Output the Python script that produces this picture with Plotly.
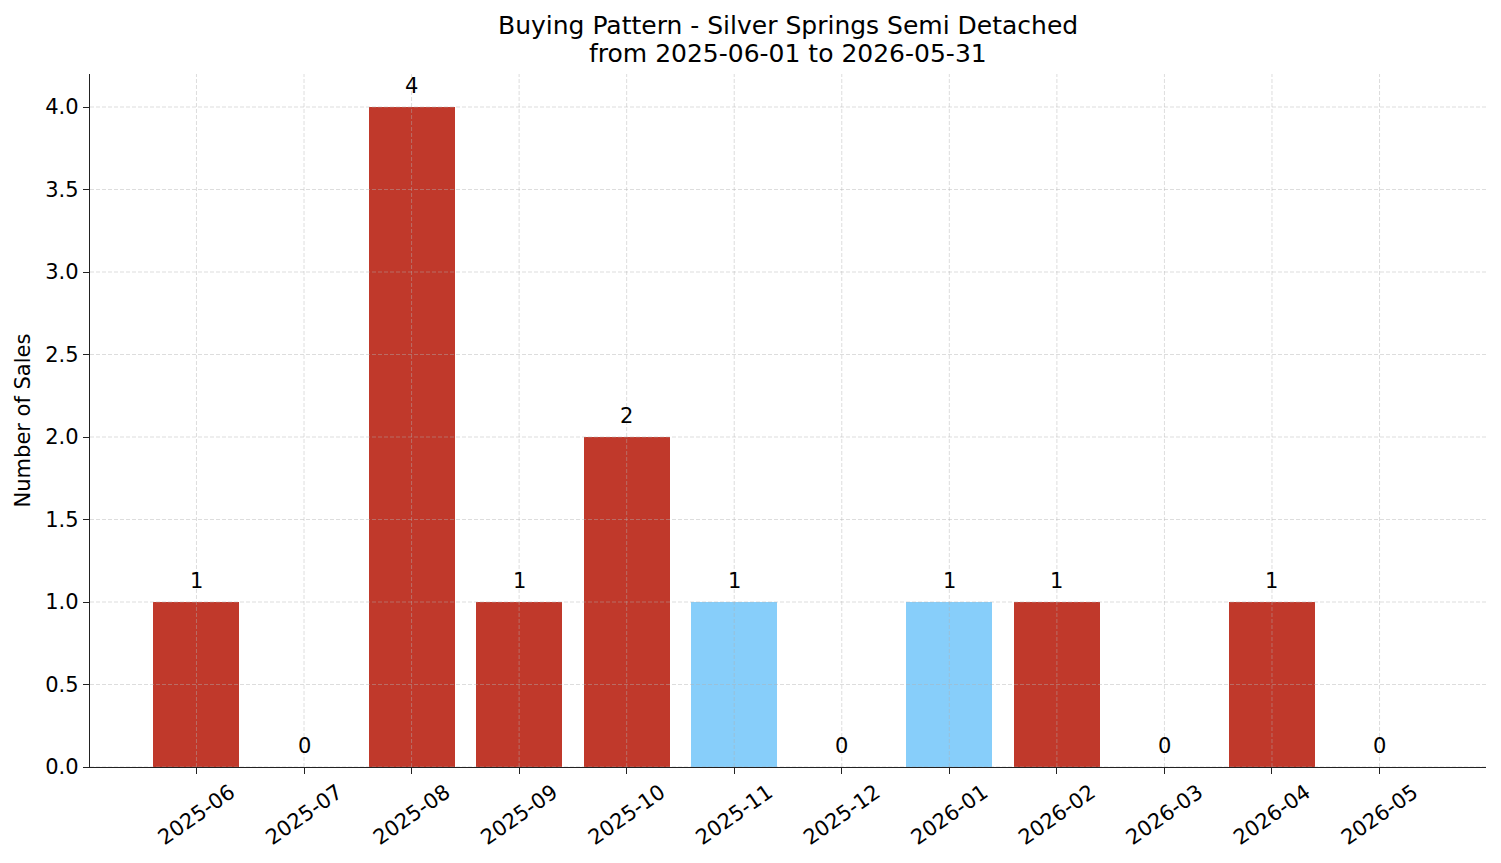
import plotly.graph_objects as go

months = ["2025-06", "2025-07", "2025-08", "2025-09", "2025-10", "2025-11",
          "2025-12", "2026-01", "2026-02", "2026-03", "2026-04", "2026-05"]
sales = [1, 0, 4, 1, 2, 1, 0, 1, 1, 0, 1, 0]
highlighted = ["2025-11", "2026-01"]
y_ticks = [0.0, 0.5, 1.0, 1.5, 2.0, 2.5, 3.0, 3.5, 4.0]
title_lines = ["Buying Pattern - Silver Springs Semi Detached", "from 2025-06-01 to 2026-05-31"]

RED = "#c0392b"
BLUE = "#87cefa"
FONT = "DejaVu Sans"
colors = [BLUE if m in highlighted else RED for m in months]
idx = list(range(len(months)))

fig = go.Figure()
fig.add_trace(go.Bar(x=idx, y=sales, width=0.8, marker=dict(color=colors, line=dict(width=0)),
                     hoverinfo="skip", showlegend=False))

grid = dict(color="rgba(176,176,176,0.55)", width=0.8, dash="4px,2px")
shapes = []
for i in idx:
    shapes.append(dict(type="line", xref="x", yref="paper", x0=i, x1=i, y0=0, y1=1, line=grid, layer="above"))
for v in y_ticks:
    shapes.append(dict(type="line", xref="paper", yref="y", x0=0, x1=1, y0=v, y1=v, line=grid, layer="above"))

annotations = [
    dict(text=title_lines[0], xref="paper", yref="paper", x=0.5, y=1 + (74 - 26) / 693,
         xanchor="center", yanchor="middle", showarrow=False, font=dict(family=FONT, size=25, color="black")),
    dict(text=title_lines[1], xref="paper", yref="paper", x=0.5, y=1 + (74 - 54) / 693,
         xanchor="center", yanchor="middle", showarrow=False, font=dict(family=FONT, size=25, color="black")),
]
for i, v in zip(idx, sales):
    annotations.append(dict(text=str(v), x=i, y=v, xref="x", yref="y", xanchor="center", yanchor="bottom",
                            yshift=7, showarrow=False, font=dict(family=FONT, size=21, color="black")))

fig.update_layout(
    width=1501, height=863,
    margin=dict(l=90, r=15, t=74, b=96),
    paper_bgcolor="white", plot_bgcolor="white",
    font=dict(family=FONT, size=21, color="black"),
    shapes=shapes,
    annotations=annotations,
    bargap=0,
)
fig.update_xaxes(range=[-0.99, 11.99], tickmode="array", tickvals=idx, ticktext=months,
                 tickangle=-35, showgrid=False, zeroline=False, automargin=False,
                 showline=True, linecolor="#222", linewidth=1.3,
                 ticks="outside", ticklen=6, tickwidth=1.3, tickcolor="#222",
                 tickfont=dict(family=FONT, size=21), ticklabelshift=34, ticklabelstandoff=-2)
fig.update_yaxes(range=[0, 4.2], tickmode="array", tickvals=y_ticks,
                 ticktext=[f"{v:.1f}" for v in y_ticks], showgrid=False, zeroline=False, automargin=False,
                 showline=True, linecolor="#222", linewidth=1.3,
                 ticks="outside", ticklen=6, tickwidth=1.3, tickcolor="#222",
                 tickfont=dict(family=FONT, size=21),
                 title=dict(text="Number of Sales", font=dict(family=FONT, size=21), standoff=8))

fig.write_html("out.html")
